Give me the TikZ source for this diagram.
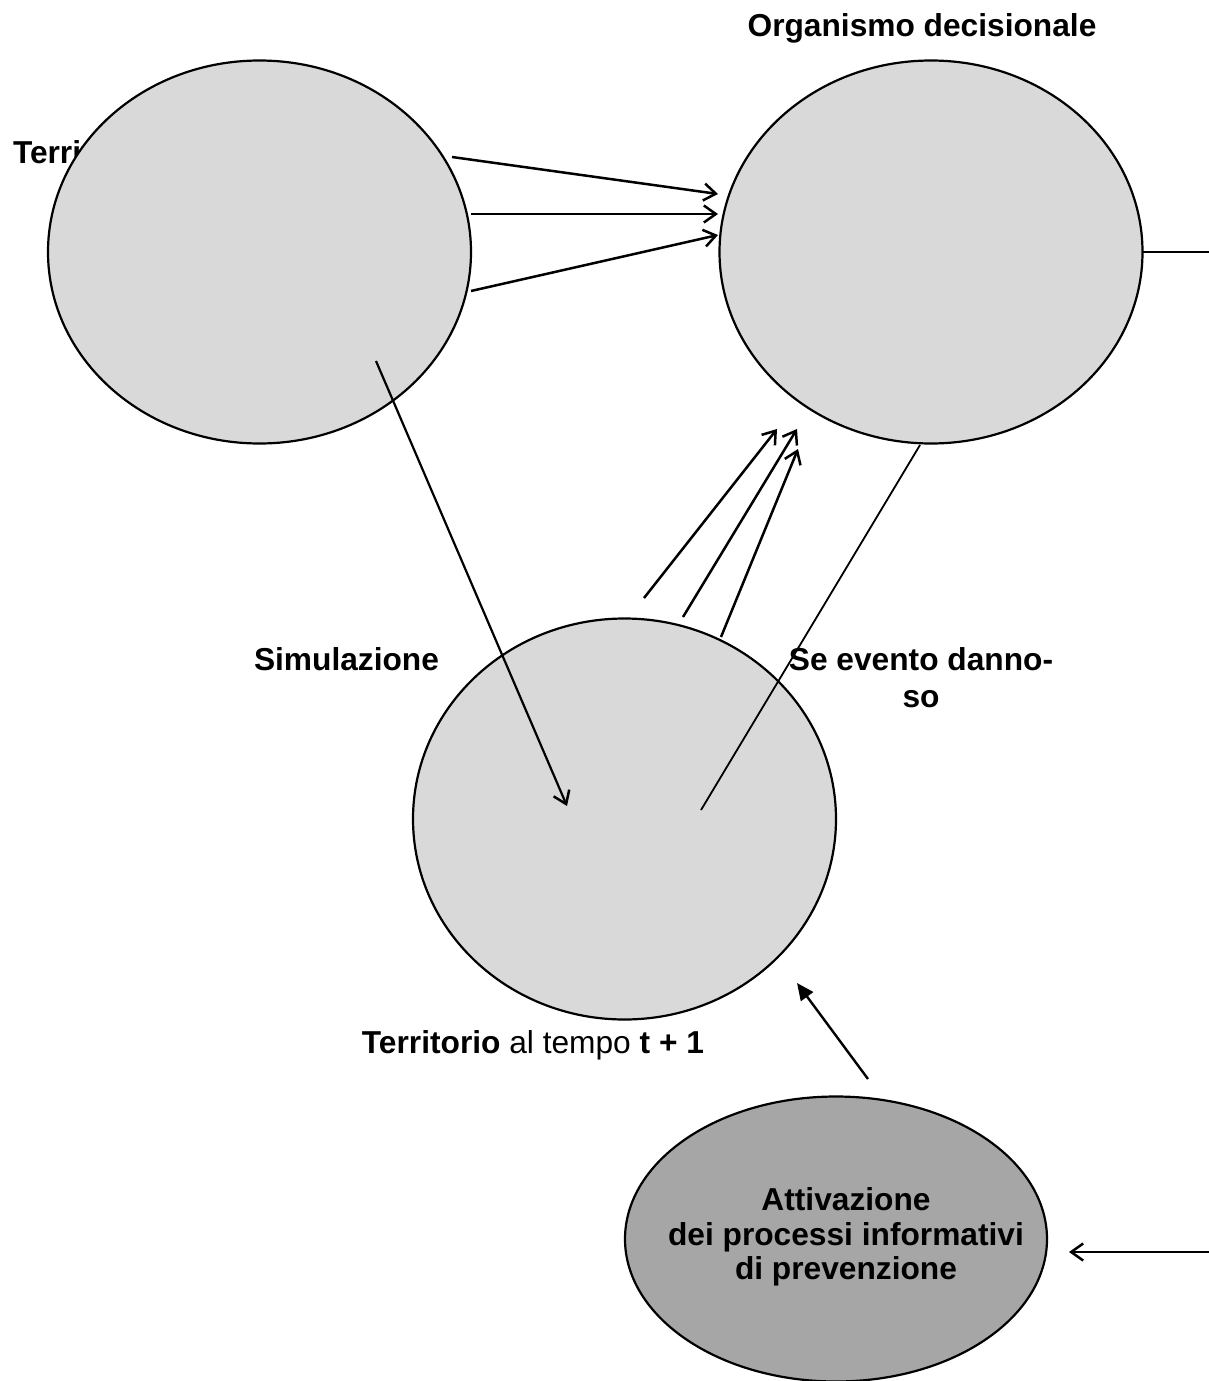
\documentclass[tikz,border=0pt]{standalone}
\usepackage{fontspec}
\setmainfont{Liberation Sans}
\usetikzlibrary{shapes.geometric,arrows.meta}
\definecolor{lightfill}{HTML}{D9D9D9}
\definecolor{darkfill}{HTML}{A6A6A6}
\begin{document}
\begin{tikzpicture}[x=1pt,y=-1pt,
  blob/.style={ellipse,draw=black,line width=2.2pt,inner sep=0pt,outer sep=0pt,fill=lightfill},
  lbl/.style={inner sep=0pt,outer sep=0pt,font=\fontsize{31.7}{36.5}\selectfont},
  arr/.style={line width=2.5pt,-{Straight Barb[length=12pt,width=17pt,line width=2.5pt]}},
  solidarr/.style={line width=2.4pt,-{Triangle[length=17pt,width=15pt]}},
  link/.style={line width=2pt}
]
\useasboundingbox (0,0) rectangle (1209,1381);

% label partly hidden behind the first ellipse
\node[lbl,anchor=base west] (terr0) at (13,163) {\bfseries Territorio};

% the four ellipses
\node[blob,minimum width=423pt,minimum height=383pt] (e1) at (259.5,252) {};
\node[blob,minimum width=423pt,minimum height=383pt] (e2) at (931,252) {};
\node[blob,minimum width=423pt,minimum height=401pt] (e3) at (624.5,819) {};
\node[blob,fill=darkfill,minimum width=422pt,minimum height=285pt] (e4) at (836,1239) {};

% labels
\node[lbl,anchor=base] (org) at (922,37) {\bfseries Organismo decisionale};
\node[lbl,anchor=base west] (sim) at (254,670) {\bfseries Simulazione};
\node[lbl,anchor=base,align=center] (se) at (921,707) {\bfseries Se evento danno-\\\bfseries so};
\node[lbl,anchor=base] (terr1) at (533,1053) {\textbf{Territorio} al tempo \textbf{t + 1}};
\node[lbl,align=center,font=\fontsize{31.7}{34.5}\selectfont\bfseries] (att) at (846,1237)
  {Attivazione\\dei processi informativi\\di prevenzione};

% connector end points
\coordinate (a1s) at (452,157); \coordinate (a1e) at (718,194);
\coordinate (a2s) at (471,214); \coordinate (a2e) at (718,214);
\coordinate (a3s) at (471,291); \coordinate (a3e) at (718,235);
\coordinate (b1s) at (644,598); \coordinate (b1e) at (777,429);
\coordinate (b2s) at (683,617); \coordinate (b2e) at (797,429);
\coordinate (b3s) at (721,637); \coordinate (b3e) at (798,449);
\coordinate (s1) at (376,361);  \coordinate (s2) at (567,806);
\coordinate (d1) at (920,445);  \coordinate (d2) at (701,810);
\coordinate (r1) at (1209,252);
\coordinate (p1) at (868,1079); \coordinate (p2) at (797,983);
\coordinate (q1) at (1209,1252); \coordinate (q2) at (1069,1252);

% territory to decision body
\draw[arr] (a1s) -- (a1e);
\draw[arr] (a2s) -- (a2e);
\draw[arr] (a3s) -- (a3e);

% simulation feedback to decision body
\draw[arr] (b1s) -- (b1e);
\draw[arr] (b2s) -- (b2e);
\draw[arr] (b3s) -- (b3e);

% simulation step
\draw[arr,line width=2.2pt] (s1) -- (s2);
\draw[link,line width=1.8pt] (d1) -- (d2);

% outgoing line and prevention arrows
\draw[link,line width=2.4pt] (e2.east) -- (r1);
\draw[solidarr] (p1) -- (p2);
\draw[arr] (q1) -- (q2);
\end{tikzpicture}
\end{document}
